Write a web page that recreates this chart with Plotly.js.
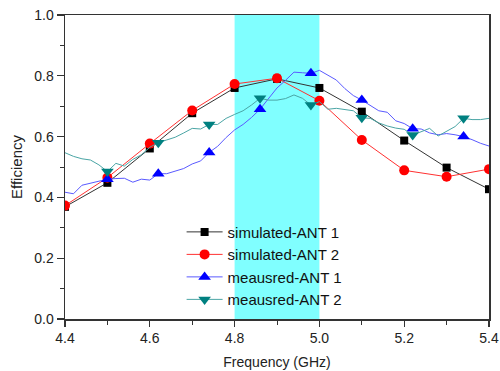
<!DOCTYPE html>
<html>
<head>
<meta charset="utf-8">
<script src="https://cdn.plot.ly/plotly-3.0.1.min.js"></script>
<style>html,body{margin:0;padding:0;background:#fff;}#chart{width:500px;height:371px;}</style>
</head>
<body>
<div id="chart"></div>
<script>
// Simulated data (0.1 GHz steps)
const simFreq = [4.4, 4.5, 4.6, 4.7, 4.8, 4.9, 5.0, 5.1, 5.2, 5.3, 5.4];
const simAnt1 = [0.369, 0.448, 0.561, 0.677, 0.760, 0.790, 0.760, 0.682, 0.587, 0.498, 0.427];
const simAnt2 = [0.373, 0.465, 0.577, 0.686, 0.773, 0.792, 0.718, 0.589, 0.489, 0.468, 0.493];

// Measured data (0.02 GHz steps)
const measFreq = [4.40, 4.42, 4.44, 4.46, 4.48, 4.50, 4.52, 4.54, 4.56, 4.58,
                  4.60, 4.62, 4.64, 4.66, 4.68, 4.70, 4.72, 4.74, 4.76, 4.78,
                  4.80, 4.82, 4.84, 4.86, 4.88, 4.90, 4.92, 4.94, 4.96, 4.98,
                  5.00, 5.02, 5.04, 5.06, 5.08, 5.10, 5.12, 5.14, 5.16, 5.18,
                  5.20, 5.22, 5.24, 5.26, 5.28, 5.30, 5.32, 5.34, 5.36, 5.38, 5.40];
const measAnt1 = [0.417, 0.412, 0.440, 0.446, 0.454, 0.460, 0.462, 0.463, 0.450, 0.460,
                  0.457, 0.478, 0.478, 0.486, 0.495, 0.510, 0.520, 0.548, 0.568, 0.597,
                  0.622, 0.640, 0.663, 0.690, 0.725, 0.760, 0.785, 0.812, 0.810, 0.808,
                  0.818, 0.802, 0.786, 0.758, 0.735, 0.720, 0.703, 0.685, 0.680, 0.652,
                  0.643, 0.626, 0.625, 0.612, 0.606, 0.610, 0.606, 0.600, 0.590, 0.578, 0.569];
const measAnt2 = [0.547, 0.535, 0.527, 0.523, 0.507, 0.485, 0.512, 0.503, 0.525, 0.540,
                  0.565, 0.580, 0.589, 0.598, 0.612, 0.627, 0.625, 0.640, 0.640, 0.660,
                  0.673, 0.685, 0.704, 0.726, 0.720, 0.720, 0.725, 0.737, 0.726, 0.704,
                  0.715, 0.690, 0.693, 0.690, 0.685, 0.662, 0.660, 0.645, 0.635, 0.628,
                  0.624, 0.605, 0.615, 0.627, 0.602, 0.618, 0.633, 0.660, 0.656, 0.656, 0.660];
// Frequencies where measured-curve markers are drawn
const measMarkerFreq = [4.50, 4.62, 4.74, 4.86, 4.98, 5.10, 5.22, 5.34];

// Highlighted band
const bandRange = [4.8, 5.0];

const seriesNames = ['simulated-ANT 1', 'simulated-ANT 2', 'meausred-ANT 1', 'meausred-ANT 2'];

function pick(xs, ys, sel) {
  const outX = [], outY = [];
  sel.forEach(f => {
    const i = xs.findIndex(v => Math.abs(v - f) < 1e-9);
    if (i >= 0) { outX.push(xs[i]); outY.push(ys[i]); }
  });
  return {x: outX, y: outY};
}

const m1 = pick(measFreq, measAnt1, measMarkerFreq);
const m2 = pick(measFreq, measAnt2, measMarkerFreq);

const traces = [
  {x: simFreq, y: simAnt1, name: seriesNames[0], mode: 'lines+markers', type: 'scatter',
   line: {color: '#333333', width: 1}, marker: {symbol: 'square', size: 8, color: '#000000'}},
  {x: simFreq, y: simAnt2, name: seriesNames[1], mode: 'lines+markers', type: 'scatter',
   line: {color: '#ff3030', width: 1}, marker: {symbol: 'circle', size: 10, color: '#ff0000'}},
  // measured ANT 1: line + sparse markers, plus legend entry
  {x: measFreq, y: measAnt1, name: seriesNames[2], mode: 'lines', type: 'scatter', showlegend: false,
   legendgroup: 'm1', line: {color: '#5a5aff', width: 1}},
  {x: m1.x, y: m1.y, name: seriesNames[2], mode: 'markers', type: 'scatter', showlegend: false,
   legendgroup: 'm1', marker: {symbol: 'triangle-up', size: 11, color: '#0000ff'}},
  // measured ANT 2
  {x: measFreq, y: measAnt2, name: seriesNames[3], mode: 'lines', type: 'scatter', showlegend: false,
   legendgroup: 'm2', line: {color: '#4aa5a5', width: 1}},
  {x: m2.x, y: m2.y, name: seriesNames[3], mode: 'markers', type: 'scatter', showlegend: false,
   legendgroup: 'm2', marker: {symbol: 'triangle-down', size: 11, color: '#008080'}},
  // legend-only entries
  {x: [null], y: [null], name: seriesNames[2], mode: 'lines+markers', type: 'scatter', legendgroup: 'm1',
   line: {color: '#5a5aff', width: 1}, marker: {symbol: 'triangle-up', size: 11, color: '#0000ff'}},
  {x: [null], y: [null], name: seriesNames[3], mode: 'lines+markers', type: 'scatter', legendgroup: 'm2',
   line: {color: '#4aa5a5', width: 1}, marker: {symbol: 'triangle-down', size: 11, color: '#008080'}}
];

const fontFam = 'Liberation Sans, Arial, sans-serif';

const layout = {
  width: 500, height: 371,
  margin: {l: 65, r: 11, t: 15, b: 52},
  paper_bgcolor: '#ffffff', plot_bgcolor: '#ffffff',
  font: {family: fontFam, size: 14, color: '#222222'},
  showlegend: true,
  legend: {x: 0.275, y: 0.34, xanchor: 'left', yanchor: 'top', bgcolor: 'rgba(0,0,0,0)', itemwidth: 36,
           font: {family: fontFam, size: 15, color: '#111111'}, tracegroupgap: 0, traceorder: 'normal'},
  shapes: [{type: 'rect', xref: 'x', yref: 'paper', x0: bandRange[0], x1: bandRange[1], y0: 0, y1: 1,
            fillcolor: '#80ffff', line: {width: 0}, layer: 'below'}],
  xaxis: {
    range: [4.4, 5.4], dtick: 0.2, tick0: 4.4, tickformat: '.1f',
    showgrid: false, zeroline: false, showline: true, linecolor: '#333333', linewidth: 1.5, mirror: true,
    ticks: 'outside', ticklen: 6, tickwidth: 1.2, tickcolor: '#333333',
    minor: {dtick: 0.1, ticks: 'outside', ticklen: 4, tickwidth: 1, tickcolor: '#333333', showgrid: false},
    tickfont: {family: fontFam, size: 14, color: '#222222'},
    title: {text: 'Frequency (GHz)', font: {family: fontFam, size: 14, color: '#222222'}, standoff: 12}
  },
  yaxis: {
    range: [0, 1], dtick: 0.2, tick0: 0, tickformat: '.1f',
    showgrid: false, zeroline: false, showline: true, linecolor: '#333333', linewidth: 1.5, mirror: true,
    ticks: 'outside', ticklen: 7, tickwidth: 1.2, tickcolor: '#333333',
    minor: {dtick: 0.1, ticks: 'outside', ticklen: 4, tickwidth: 1, tickcolor: '#333333', showgrid: false},
    tickfont: {family: fontFam, size: 14, color: '#222222'},
    title: {text: 'Efficiency', font: {family: fontFam, size: 15, color: '#222222'}, standoff: 8}
  }
};

Plotly.newPlot('chart', traces, layout, {displayModeBar: false, staticPlot: true});
</script>
</body>
</html>
